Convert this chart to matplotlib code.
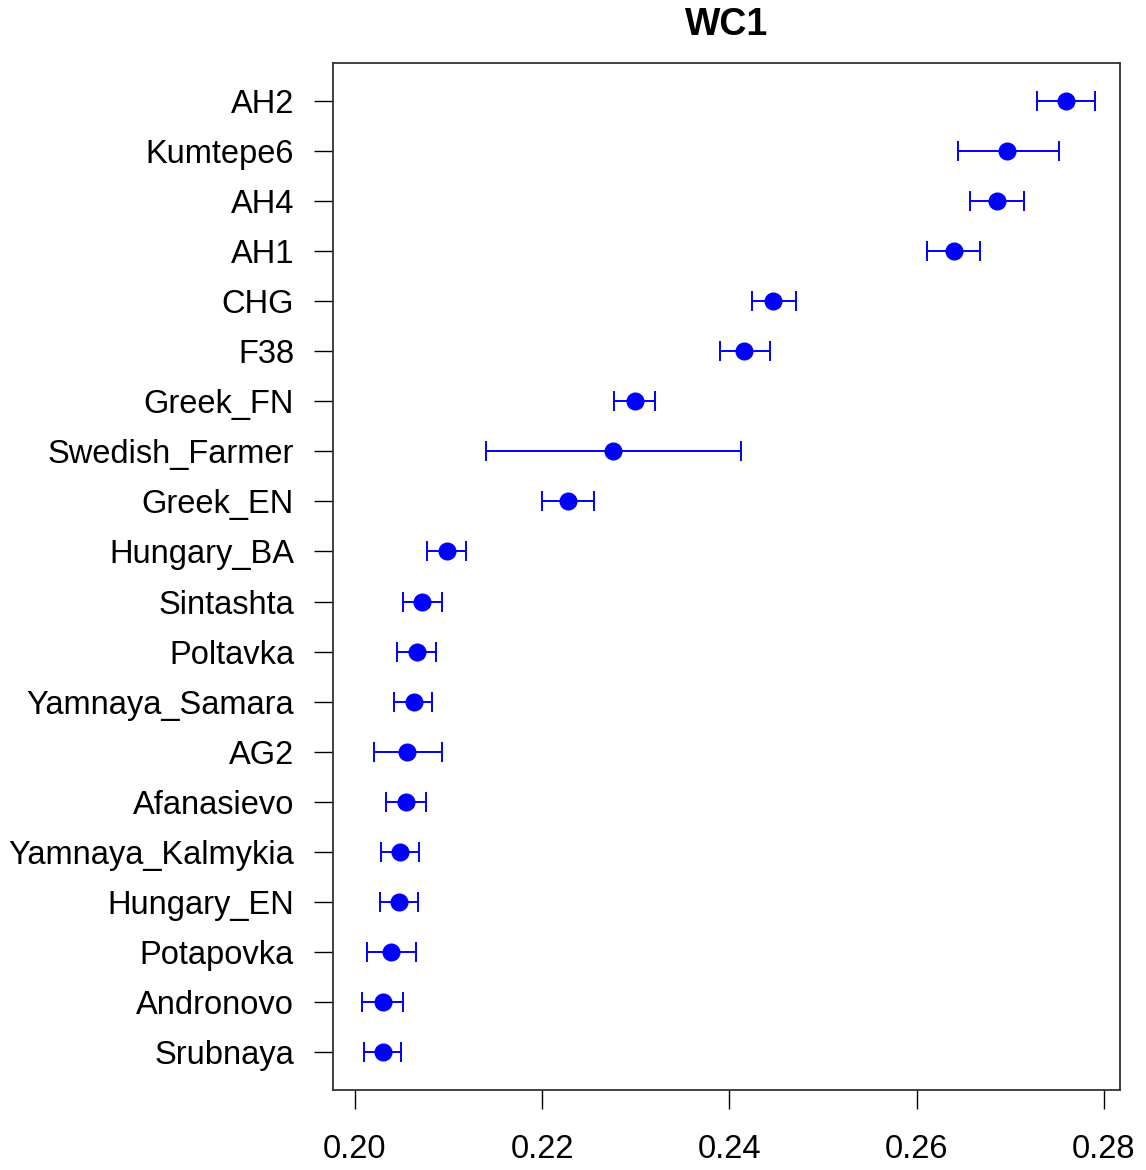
import matplotlib
matplotlib.use("Agg")
import matplotlib.pyplot as plt
import numpy as np

plt.rcParams['font.family'] = ['Liberation Sans', 'DejaVu Sans']

groups = ['AH2', 'Kumtepe6', 'AH4', 'AH1', 'CHG', 'F38', 'Greek_FN',
          'Swedish_Farmer', 'Greek_EN', 'Hungary_BA', 'Sintashta', 'Poltavka',
          'Yamnaya_Samara', 'AG2', 'Afanasievo', 'Yamnaya_Kalmykia',
          'Hungary_EN', 'Potapovka', 'Andronovo', 'Srubnaya']
est = [0.2760, 0.2697, 0.2686, 0.2640, 0.2447, 0.2416, 0.2299,
       0.2276, 0.2228, 0.2098, 0.2072, 0.2066,
       0.2063, 0.2056, 0.2054, 0.2048,
       0.2047, 0.2038, 0.2030, 0.2030]
lower = [0.2729, 0.2644, 0.2657, 0.2611, 0.2424, 0.2390, 0.2277,
         0.2140, 0.2200, 0.2077, 0.2051, 0.2045,
         0.2042, 0.2020, 0.2033, 0.2028,
         0.2027, 0.2013, 0.2008, 0.2010]
upper = [0.2791, 0.2752, 0.2715, 0.2668, 0.2471, 0.2443, 0.2321,
         0.2412, 0.2255, 0.2119, 0.2093, 0.2087,
         0.2082, 0.2093, 0.2076, 0.2068,
         0.2067, 0.2065, 0.2051, 0.2049]
xticks = [0.20, 0.22, 0.24, 0.26, 0.28]

est = np.array(est)
lower = np.array(lower)
upper = np.array(upper)
ypos = np.arange(len(groups))

fig = plt.figure(figsize=(11.46, 11.70), dpi=100)
ax = fig.add_axes([333 / 1146, 80 / 1170, 787 / 1146, 1027 / 1170])

ax.errorbar(est, ypos, xerr=[est - lower, upper - est], fmt='o',
            color='blue', ecolor='blue', markersize=12, elinewidth=1.4,
            capsize=7.5, capthick=1.4)

ax.set_xlim(0.19765, 0.28173)
ax.set_ylim(len(groups) - 1 + 0.76, -0.76)
ax.set_yticks(ypos)
ax.set_yticklabels(groups)
ax.set_xticks(xticks)
ax.set_xticklabels(['%.2f' % t for t in xticks])
ax.tick_params(axis='y', labelsize=23.5, length=14, width=1.0, pad=14)
ax.tick_params(axis='x', labelsize=23.5, length=14, width=1.0, pad=18)
for s in ax.spines.values():
    s.set_linewidth(1.3)
    s.set_color('#333333')

fig.text(726.5 / 1146, 1 - 25 / 1170, 'WC1', ha='center', va='center',
         fontsize=27, fontweight='bold')

fig.savefig('out.png', dpi=100)
